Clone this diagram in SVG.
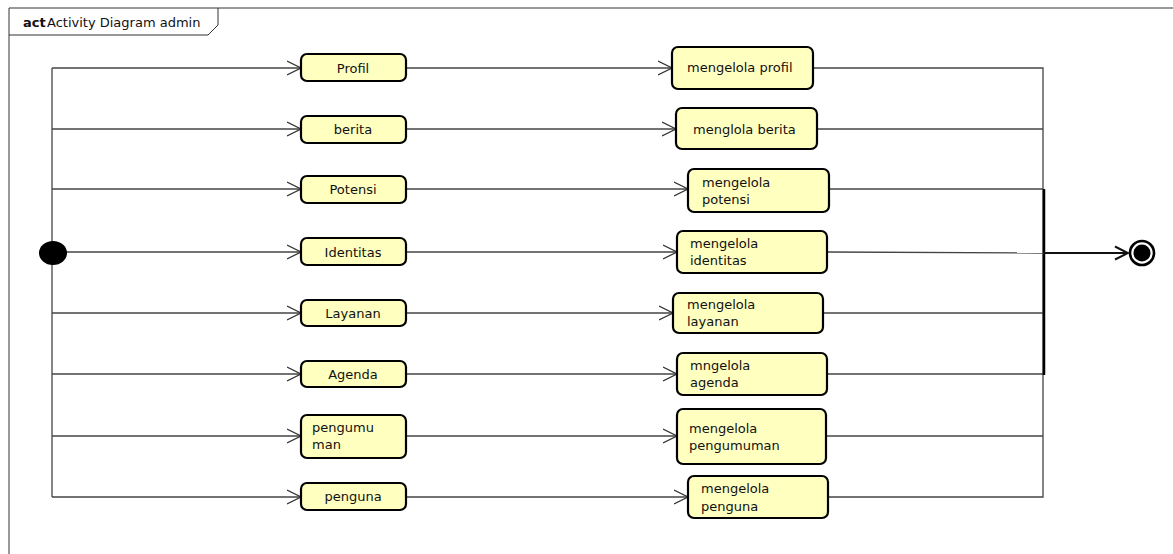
<svg xmlns="http://www.w3.org/2000/svg" width="1173" height="554" viewBox="0 0 1173 554">
<defs>
<marker id="arr" markerWidth="16" markerHeight="16" refX="14" refY="8" orient="auto" markerUnits="userSpaceOnUse">
<path d="M0,1 L14,8 L0,15" fill="none" stroke="#333" stroke-width="1.3"/>
</marker>
<marker id="arr2" markerWidth="16" markerHeight="16" refX="14" refY="8" orient="auto" markerUnits="userSpaceOnUse">
<path d="M1,1.5 L14,8 L1,14.5" fill="none" stroke="#111" stroke-width="2"/>
</marker>
<style>
.box{fill:#ffffc0;stroke:#000;stroke-width:2.2}
.t{font-family:"DejaVu Sans","Liberation Sans",sans-serif;font-size:13px;fill:#111}
.c{text-anchor:middle}
.ln{fill:none;stroke:#444;stroke-width:1.3}
</style>
</defs>
<rect width="1173" height="554" fill="#fff"/>
<g id="frame">
<path d="M9,560 L9,8 L1180,8" fill="none" stroke="#333" stroke-width="1"/>
<path d="M9,35 L208,35 L218,25 L218,8" fill="none" stroke="#333" stroke-width="1"/>
<text x="23" y="27" class="t" font-weight="bold">act</text>
<text x="47" y="27" class="t">Activity Diagram admin</text>
</g>
<g id="connectors">
<path class="ln" d="M52,68 L52,497"/>
<path class="ln" d="M52,68 L301,68" marker-end="url(#arr)"/>
<path class="ln" d="M52,129 L301,129" marker-end="url(#arr)"/>
<path class="ln" d="M52,189 L301,189" marker-end="url(#arr)"/>
<path class="ln" d="M52,252 L301,252" marker-end="url(#arr)"/>
<path class="ln" d="M52,313 L301,313" marker-end="url(#arr)"/>
<path class="ln" d="M52,374 L301,374" marker-end="url(#arr)"/>
<path class="ln" d="M52,436 L301,436" marker-end="url(#arr)"/>
<path class="ln" d="M52,497 L301,497" marker-end="url(#arr)"/>
<path class="ln" d="M406,68 L672,68" marker-end="url(#arr)"/>
<path class="ln" d="M406,129 L676,129" marker-end="url(#arr)"/>
<path class="ln" d="M406,189 L688,189" marker-end="url(#arr)"/>
<path class="ln" d="M406,252 L677,252" marker-end="url(#arr)"/>
<path class="ln" d="M406,313 L673,313" marker-end="url(#arr)"/>
<path class="ln" d="M406,374 L677,374" marker-end="url(#arr)"/>
<path class="ln" d="M406,436 L677,436" marker-end="url(#arr)"/>
<path class="ln" d="M406,497 L688,497" marker-end="url(#arr)"/>
<path class="ln" d="M813,68 L1043,68 L1043,497 L828,497"/>
<path class="ln" d="M817,129 L1043,129"/>
<path class="ln" d="M829,189 L1043,189"/>
<path class="ln" d="M823,313 L1043,313"/>
<path class="ln" d="M827,374 L1043,374"/>
<path class="ln" d="M826,436 L1043,436"/>
<path d="M1044,189 L1044,375" stroke="#000" stroke-width="2.5" fill="none"/>
<path class="ln" d="M827,252 L1044,253"/>
<path d="M1044,253 L1128,253" fill="none" stroke="#111" stroke-width="2" marker-end="url(#arr2)"/>
</g>
<g id="start"><ellipse cx="53" cy="253" rx="14" ry="12" fill="#000"/></g>
<g id="end"><circle cx="1142" cy="253" r="12" fill="#fff" stroke="#000" stroke-width="2.6"/><circle cx="1142" cy="253" r="8.5" fill="#000"/></g>
<g id="n-profil"><rect class="box" x="301" y="54" width="105" height="27" rx="6"/><text class="t c" x="353" y="73">Profil</text></g>
<g id="n-berita"><rect class="box" x="301" y="116" width="105" height="27" rx="6"/><text class="t c" x="353" y="134">berita</text></g>
<g id="n-potensi"><rect class="box" x="301" y="176" width="105" height="27" rx="6"/><text class="t c" x="353" y="194">Potensi</text></g>
<g id="n-identitas"><rect class="box" x="301" y="238" width="105" height="27" rx="6"/><text class="t c" x="353" y="257">Identitas</text></g>
<g id="n-layanan"><rect class="box" x="301" y="300" width="105" height="26" rx="6"/><text class="t c" x="353" y="318">Layanan</text></g>
<g id="n-agenda"><rect class="box" x="301" y="361" width="105" height="26" rx="6"/><text class="t c" x="353" y="379">Agenda</text></g>
<g id="n-pengumuman"><rect class="box" x="301" y="415" width="105" height="43" rx="6"/><text class="t" x="312" y="432">pengumu</text><text class="t" x="312" y="449">man</text></g>
<g id="n-penguna"><rect class="box" x="301" y="483" width="105" height="27" rx="6"/><text class="t c" x="353" y="501">penguna</text></g>
<g id="m-profil"><rect class="box" x="672" y="47" width="141" height="42" rx="6"/><text class="t" x="687" y="72">mengelola profil</text></g>
<g id="m-berita"><rect class="box" x="676" y="108" width="141" height="41" rx="6"/><text class="t" x="693" y="134">menglola berita</text></g>
<g id="m-potensi"><rect class="box" x="688" y="169" width="141" height="43" rx="6"/><text class="t" x="702" y="187">mengelola</text><text class="t" x="702" y="204">potensi</text></g>
<g id="m-identitas"><rect class="box" x="677" y="231" width="150" height="42" rx="6"/><text class="t" x="690" y="248">mengelola</text><text class="t" x="690" y="265">identitas</text></g>
<g id="m-layanan"><rect class="box" x="673" y="293" width="150" height="40" rx="6"/><text class="t" x="687" y="309">mengelola</text><text class="t" x="687" y="326">layanan</text></g>
<g id="m-agenda"><rect class="box" x="677" y="353" width="150" height="42" rx="6"/><text class="t" x="690" y="370">mngelola</text><text class="t" x="690" y="387">agenda</text></g>
<g id="m-pengumuman"><rect class="box" x="677" y="409" width="149" height="55" rx="6"/><text class="t" x="689" y="433">mengelola</text><text class="t" x="689" y="450">pengumuman</text></g>
<g id="m-penguna"><rect class="box" x="688" y="476" width="140" height="42" rx="6"/><text class="t" x="701" y="493">mengelola</text><text class="t" x="701" y="511">penguna</text></g>
</svg>
